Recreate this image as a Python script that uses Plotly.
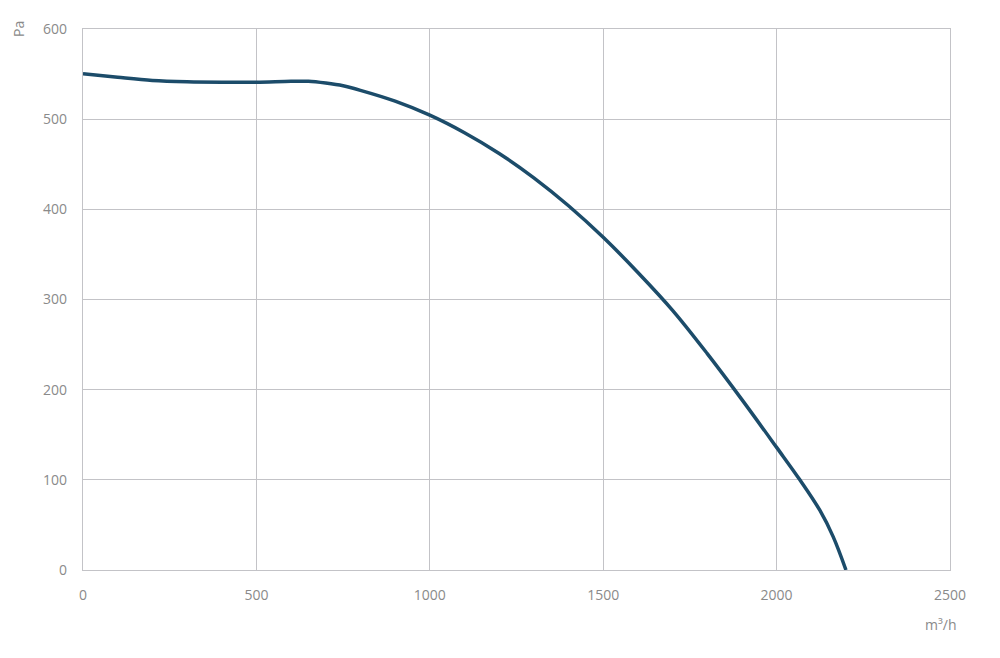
import plotly.graph_objects as go

airflow = [0, 100, 200, 300, 400, 500, 600, 650, 700, 750, 800, 900, 1000,
           1100, 1200, 1300, 1400, 1500, 1600, 1700, 1800, 1900, 2000,
           2067, 2125, 2163, 2200]
pressure = [550.5, 546.5, 543, 541.5, 541, 541, 542, 542, 540, 537, 532, 520,
            504.5, 485, 462, 435, 404, 369, 330, 288, 240, 189, 136,
            100, 66, 37, 0]

x_ticks = [0, 500, 1000, 1500, 2000, 2500]
y_ticks = [0, 100, 200, 300, 400, 500, 600]

font_family = "Open Sans"
grey = "#8a8a8a"
grid = "#c3c3c7"

fig = go.Figure()
fig.add_trace(go.Scatter(
    x=airflow, y=pressure, mode="lines",
    line=dict(color="#1c4c6a", width=3.5, shape="spline", smoothing=1.0),
    hoverinfo="x+y", showlegend=False,
))

fig.update_layout(
    width=1000, height=658,
    margin=dict(l=75, r=58, t=11, b=96),
    paper_bgcolor="white", plot_bgcolor="white",
    font=dict(family=font_family, size=14, color=grey),
    xaxis=dict(range=[0, 2500], tickvals=x_ticks, showgrid=True, gridcolor=grid,
               gridwidth=1.3, zeroline=False, showline=True, linecolor=grid,
               linewidth=1.3, mirror=True, ticks="", ticklabelstandoff=12,
               tickfont=dict(size=14, color=grey)),
    yaxis=dict(range=[0, 600], tickvals=y_ticks, showgrid=True, gridcolor=grid,
               gridwidth=1.3, zeroline=False, showline=True, linecolor=grid,
               linewidth=1.3, mirror=True, ticks="", ticklabelstandoff=12,
               tickfont=dict(size=14, color=grey)),
    annotations=[
        dict(text="Pa", xref="paper", yref="paper", x=-0.075, y=1.0,
             xanchor="center", yanchor="middle", showarrow=False, textangle=-90,
             font=dict(size=14, color=grey, family=font_family)),
        dict(text="m³/h", xref="paper", yref="paper", x=0.99, y=-0.1,
             xanchor="center", yanchor="middle", showarrow=False,
             font=dict(size=14, color=grey, family=font_family)),
    ],
)

fig.write_html("out.html")
